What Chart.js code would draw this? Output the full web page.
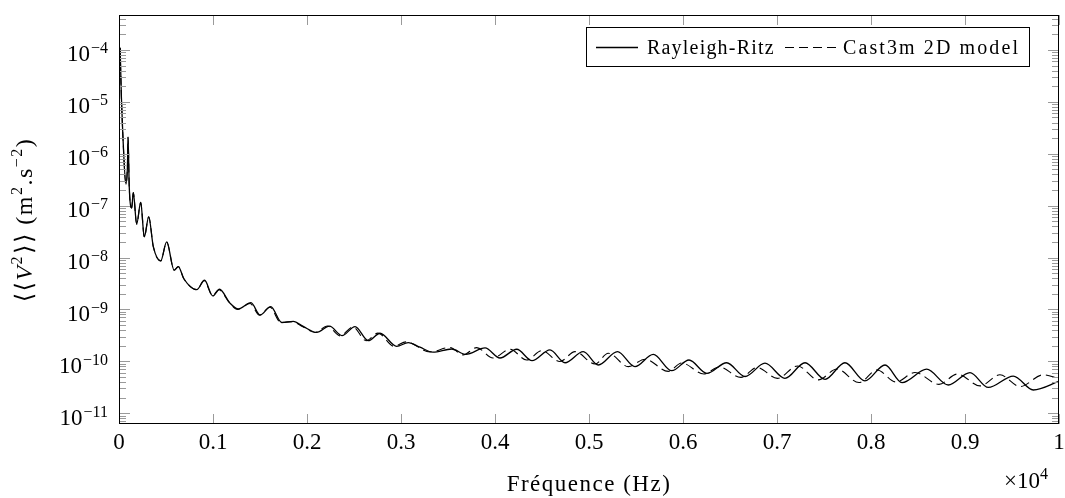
<!DOCTYPE html>
<html>
<head>
<meta charset="utf-8">
<script src="https://cdn.jsdelivr.net/npm/chart.js@4.4.0/dist/chart.umd.min.js"></script>
<style>
  html, body { margin: 0; padding: 0; background: #fff; }
  #wrap { width: 1065px; height: 498px; }
</style>
</head>
<body>
<div id="wrap"><canvas id="psd" width="1065" height="498"></canvas></div>
<script>
// --- data (frequency in Hz, <<V^2>> in m2.s-2) ---
const rrFreq = [12, 25, 40, 74, 90, 96, 109, 135, 152, 188,
    231, 269, 316, 365, 444, 507, 587, 631, 690, 827,
    910, 998, 1069, 1181, 1269, 1404, 1500, 1614, 1731, 1854,
    1960, 2103, 2239, 2372, 2511, 2652, 2777, 2954, 3077, 3202,
    3340, 3539, 3691, 3894, 4053, 4231, 4394, 4585, 4745, 4939,
    5099, 5303, 5489, 5684, 5880, 6064, 6255, 6465, 6660, 6872,
    7085, 7298, 7511, 7723, 7936, 8149, 8330, 8592, 8822, 9053,
    9248, 9514, 9727, 10000];
const rrVal = [1.1e-4, 1.3e-5, 2.5e-6, 2.6e-7, 6e-7, 2.1e-6, 2.3e-7, 9e-8, 1.78e-7, 4.4e-8,
    1.16e-7, 2.5e-8, 6.1e-8, 1.62e-8, 8.6e-9, 2.0e-8, 5.7e-9, 6.7e-9, 3.9e-9, 2.4e-9,
    3.65e-9, 1.82e-9, 2.45e-9, 1.32e-9, 1.02e-9, 1.35e-9, 7.8e-10, 1.13e-9, 5.6e-10, 5.9e-10,
    4.7e-10, 3.6e-10, 4.75e-10, 3.13e-10, 4.67e-10, 2.5e-10, 3.48e-10, 1.95e-10, 2.29e-10, 1.87e-10,
    1.5e-10, 1.73e-10, 1.36e-10, 1.81e-10, 1.16e-10, 1.71e-10, 1.03e-10, 1.66e-10, 9.4e-11, 1.54e-10,
    8.5e-11, 1.54e-10, 7.9e-11, 1.36e-10, 6.6e-11, 1.06e-10, 5.85e-11, 9.4e-11, 5.1e-11, 9.2e-11,
    4.7e-11, 9.4e-11, 4.5e-11, 9.4e-11, 4.2e-11, 8.5e-11, 3.9e-11, 7.05e-11, 3.5e-11, 6.05e-11,
    3.14e-11, 5.2e-11, 2.8e-11, 4.1e-11];

const castFreq = [12, 25, 40, 74, 90, 96, 109, 135, 152, 188,
    231, 269, 316, 365, 444, 507, 587, 631, 690, 827,
    905, 995, 1062, 1175, 1262, 1395, 1492, 1605, 1722, 1845,
    1950, 2085, 2218, 2351, 2490, 2628, 2755, 2926, 3053, 3308,
    3521, 3660, 3805, 3979, 4160, 4337, 4497, 4691, 4851, 5064,
    5205, 5418, 5596, 5844, 5986, 6223, 6383, 6617, 6787, 7005,
    7218, 7439, 7638, 7872, 8064, 8266, 8468, 8723, 8920, 9160,
    9372, 9585, 9833, 10000];
const castVal = [1.1e-4, 1.3e-5, 2.5e-6, 2.6e-7, 6e-7, 2.1e-6, 2.3e-7, 9e-8, 1.78e-7, 4.4e-8,
    1.16e-7, 2.5e-8, 6.1e-8, 1.62e-8, 8.6e-9, 2.0e-8, 5.7e-9, 6.7e-9, 3.9e-9, 2.4e-9,
    3.6e-9, 1.85e-9, 2.4e-9, 1.35e-9, 1.0e-9, 1.3e-9, 7.8e-10, 1.1e-9, 5.6e-10, 5.8e-10,
    4.7e-10, 3.6e-10, 4.8e-10, 3.1e-10, 4.6e-10, 2.5e-10, 3.5e-10, 1.95e-10, 2.37e-10, 1.52e-10,
    1.85e-10, 1.33e-10, 1.84e-10, 1.16e-10, 1.71e-10, 1.06e-10, 1.61e-10, 9.9e-11, 1.54e-10, 8.9e-11,
    1.43e-10, 7.9e-11, 1.1e-10, 6.4e-11, 9.3e-11, 5.7e-11, 7.8e-11, 4.9e-11, 7.6e-11, 4.7e-11,
    8.15e-11, 4.4e-11, 7.1e-11, 3.9e-11, 6.8e-11, 4.0e-11, 6.1e-11, 3.6e-11, 5.7e-11, 3.36e-11,
    5.5e-11, 3.26e-11, 5.5e-11, 4.7e-11];

const seriesNames = ['Rayleigh-Ritz', 'Cast3m 2D model'];

// ticks
const xTickVals = [0, 1000, 2000, 3000, 4000, 5000, 6000, 7000, 8000, 9000, 10000];
const xTickText = ['0', '0.1', '0.2', '0.3', '0.4', '0.5', '0.6', '0.7', '0.8', '0.9', '1'];
const yDecades = [1e-11, 1e-10, 1e-9, 1e-8, 1e-7, 1e-6, 1e-5, 1e-4];
const yDecadeExp = ['\u221211', '\u221210', '\u22129', '\u22128', '\u22127', '\u22126', '\u22125', '\u22124'];

const SERIF = '"Liberation Serif", "DejaVu Serif", serif';
const TICK_GREY = '#9a9a9a';

function fontOf(p) {
    return (p.italic ? 'italic ' : '') + p.s + 'px ' + SERIF;
}

// draws a run of text pieces (for superscripts), returns width
function drawRich(ctx, parts, x, y, align) {
    let total = 0;
    parts.forEach(p => {
        ctx.font = fontOf(p);
        p.w = ctx.measureText(p.t).width + (p.gap || 0);
        total += p.w;
    });
    let cx = x;
    if (align === 'right') cx = x - total;
    if (align === 'center') cx = x - total / 2;
    ctx.textAlign = 'left';
    ctx.textBaseline = 'alphabetic';
    parts.forEach(p => {
        ctx.font = fontOf(p);
        ctx.fillText(p.t, cx + (p.gap || 0), y + (p.dy || 0));
        cx += p.w;
    });
    return total;
}

const axisDecor = {
    id: 'axisDecor',
    afterDraw(chart) {
        const ctx = chart.ctx;
        const { left, right, top, bottom } = chart.chartArea;
        const xs = chart.scales.x, ys = chart.scales.y;
        ctx.save();

        // tick marks, inward on all four sides
        ctx.strokeStyle = TICK_GREY;
        ctx.lineWidth = 1;
        ctx.beginPath();
        xTickVals.forEach(v => {
            const px = Math.round(xs.getPixelForValue(v)) + 0.5;
            ctx.moveTo(px, bottom); ctx.lineTo(px, bottom - 10);
            ctx.moveTo(px, top); ctx.lineTo(px, top + 10);
        });
        const yMin = ys.min, yMax = ys.max;
        for (let e = -12; e <= -3; e++) {
            for (let m = 1; m <= 9; m++) {
                const v = m * Math.pow(10, e);
                if (v < yMin || v > yMax) continue;
                const len = m === 1 ? 11 : 7;
                const py = Math.round(ys.getPixelForValue(v)) + 0.5;
                ctx.moveTo(left, py); ctx.lineTo(left + len, py);
                ctx.moveTo(right, py); ctx.lineTo(right - len, py);
            }
        }
        ctx.stroke();

        // frame
        ctx.strokeStyle = '#000';
        ctx.lineWidth = 1;
        ctx.strokeRect(left + 0.5, top + 0.5, right - left - 1, bottom - top - 1);

        // tick labels
        ctx.fillStyle = '#000';
        xTickVals.forEach((v, i) => {
            ctx.font = '23px ' + SERIF;
            ctx.textAlign = 'center';
            ctx.textBaseline = 'alphabetic';
            ctx.fillText(xTickText[i], xs.getPixelForValue(v), bottom + 25);
        });
        yDecades.forEach((v, i) => {
            const py = ys.getPixelForValue(v);
            drawRich(ctx, [{ t: '10', s: 23 }, { t: yDecadeExp[i], s: 16, dy: -8, gap: 1 }], 108, py + 11.5, 'right');
        });

        // axis titles
        ctx.letterSpacing = '1.5px';
        ctx.font = '23px ' + SERIF;
        ctx.textAlign = 'center';
        ctx.fillText('Fréquence (Hz)', (left + right) / 2, 491);
        ctx.letterSpacing = '0px';
        drawRich(ctx, [{ t: '\u00d710', s: 23 }, { t: '4', s: 16, dy: -9 }], 1004, 488, 'left');

        ctx.save();
        ctx.translate(32, 220);
        ctx.rotate(-Math.PI / 2);
        ctx.letterSpacing = '1.5px';
        drawRich(ctx, [
            { t: '\u27e8\u27e8', s: 24 },
            { t: 'V', s: 24, italic: true },
            { t: '2', s: 16, dy: -10 },
            { t: '\u27e9\u27e9 (m', s: 24, gap: 1 },
            { t: '2', s: 16, dy: -10 },
            { t: '.s', s: 24 },
            { t: '\u22122', s: 16, dy: -10 },
            { t: ')', s: 24 }
        ], 0, 0, 'center');
        ctx.letterSpacing = '0px';
        ctx.restore();

        // legend box
        const lx = 586.5, ly = 27.5, lw = 443, lh = 39;
        ctx.fillStyle = '#fff';
        ctx.fillRect(lx, ly, lw, lh);
        ctx.strokeStyle = '#000';
        ctx.lineWidth = 1;
        ctx.strokeRect(lx, ly, lw, lh);
        ctx.lineWidth = 1.3;
        ctx.beginPath();
        ctx.moveTo(596, 47.5); ctx.lineTo(638, 47.5);
        ctx.stroke();
        ctx.setLineDash([9, 5]);
        ctx.lineWidth = 1.1;
        ctx.beginPath();
        ctx.moveTo(785, 47.5); ctx.lineTo(837, 47.5);
        ctx.stroke();
        ctx.setLineDash([]);
        ctx.fillStyle = '#000';
        ctx.font = '20px ' + SERIF;
        ctx.textAlign = 'left';
        ctx.letterSpacing = '1.2px';
        ctx.fillText(seriesNames[0], 647, 53.5);
        ctx.letterSpacing = '2.1px';
        ctx.fillText(seriesNames[1], 843, 53.5);
        ctx.letterSpacing = '0px';

        ctx.restore();
    }
};

new Chart(document.getElementById('psd'), {
    type: 'line',
    data: {
        datasets: [
            {
                label: seriesNames[0],
                data: rrFreq.map((f, i) => ({ x: f, y: rrVal[i] })),
                borderColor: '#000',
                borderWidth: 1.3,
                pointRadius: 0,
                cubicInterpolationMode: 'monotone',
                fill: false
            },
            {
                label: seriesNames[1],
                data: castFreq.map((f, i) => ({ x: f, y: castVal[i] })),
                borderColor: '#000',
                borderWidth: 1.1,
                borderDash: [9, 5],
                pointRadius: 0,
                cubicInterpolationMode: 'monotone',
                fill: false
            }
        ]
    },
    options: {
        responsive: false,
        animation: false,
        devicePixelRatio: 1,
        events: [],
        layout: { padding: { left: 119, right: 6, top: 15, bottom: 74 } },
        plugins: { legend: { display: false }, tooltip: { enabled: false } },
        scales: {
            x: { type: 'linear', min: 0, max: 10000, display: false },
            y: { type: 'logarithmic', min: 6.2e-12, max: 4.72e-4, display: false }
        }
    },
    plugins: [axisDecor]
});
</script>
</body>
</html>
